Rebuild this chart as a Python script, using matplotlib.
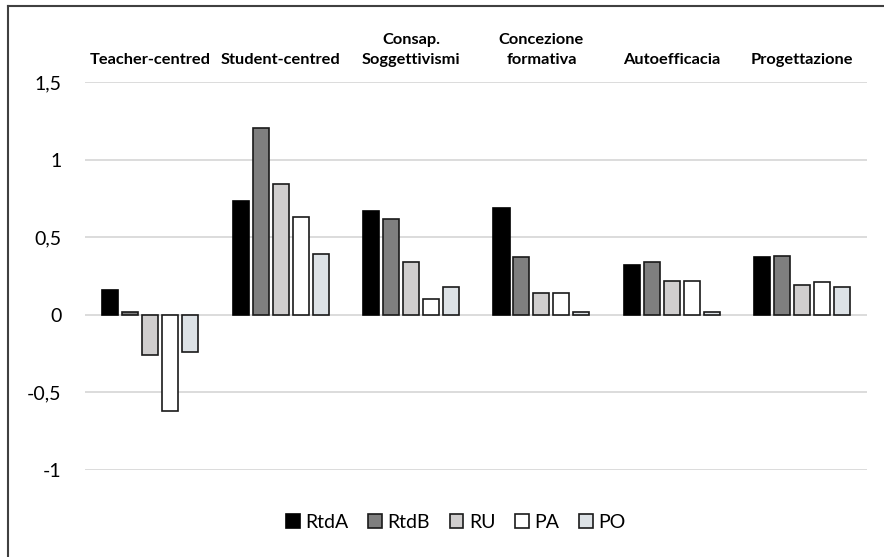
import numpy as np
import matplotlib.pyplot as plt
from matplotlib.lines import Line2D

plt.rcParams['font.family'] = ['Lato', 'DejaVu Sans']

categories = ['Teacher-centred', 'Student-centred', 'Consap.\nSoggettivismi',
              'Concezione\nformativa', 'Autoefficacia', 'Progettazione']
series = ['RtdA', 'RtdB', 'RU', 'PA', 'PO']

rtda = [0.16, 0.73, 0.67, 0.69, 0.32, 0.37]
rtdb = [0.02, 1.20, 0.62, 0.37, 0.34, 0.38]
ru = [-0.26, 0.84, 0.34, 0.14, 0.22, 0.19]
pa = [-0.62, 0.63, 0.10, 0.14, 0.22, 0.21]
po = [-0.24, 0.39, 0.18, 0.02, 0.02, 0.18]

yticks = [-1, -0.5, 0, 0.5, 1, 1.5]
ytick_labels = ['-1', '-0,5', '0', '0,5', '1', '1,5']

colors = ['#000000', '#7f7f7f', '#d0cece', '#ffffff', '#dde2e6']
edges = ['#000000', '#1a1a1a', '#1a1a1a', '#1a1a1a', '#1a1a1a']

fig = plt.figure(figsize=(8.84, 5.57), dpi=100)
ax = fig.add_axes([0.0962, 0.156, 0.885, 0.697])

x = np.arange(len(categories))
step = 0.153
width = 0.123
for i, vals in enumerate([rtda, rtdb, ru, pa, po]):
    ax.bar(x + (i - 2) * step, vals, width=width, color=colors[i],
           edgecolor=edges[i], linewidth=1.2, label=series[i], zorder=3)

ax.set_xlim(-0.5, len(categories) - 0.5)
ax.set_ylim(-1, 1.5)
ax.set_yticks(yticks)
ax.set_yticklabels(ytick_labels, fontsize=14)
ax.set_xticks([])
ax.tick_params(axis='y', length=0, pad=17)
ax.grid(axis='y', color='#d9d9d9', linewidth=1.3, zorder=0)
for s in ax.spines.values():
    s.set_visible(False)

# group names above the plot area
for xi, name in zip(x, categories):
    ax.annotate(name, xy=(xi, 1.0), xycoords=('data', 'axes fraction'),
                xytext=(0, 11), textcoords='offset points',
                ha='center', va='bottom', fontsize=11.8, fontweight='bold',
                linespacing=1.55)

ax.legend(loc='center', bbox_to_anchor=(0.474, -0.134), ncol=5,
          frameon=False, fontsize=14, handlelength=0.7, handleheight=0.7,
          handletextpad=0.3, columnspacing=1.0)

# chart frame (top and left edges)
fig.add_artist(Line2D([8 / 884, 1], [1 - 6 / 557, 1 - 6 / 557],
                      transform=fig.transFigure, color='#404040', linewidth=1.5))
fig.add_artist(Line2D([8 / 884, 8 / 884], [0, 1 - 6 / 557],
                      transform=fig.transFigure, color='#404040', linewidth=1.5))

fig.savefig('out.png', dpi=100)
